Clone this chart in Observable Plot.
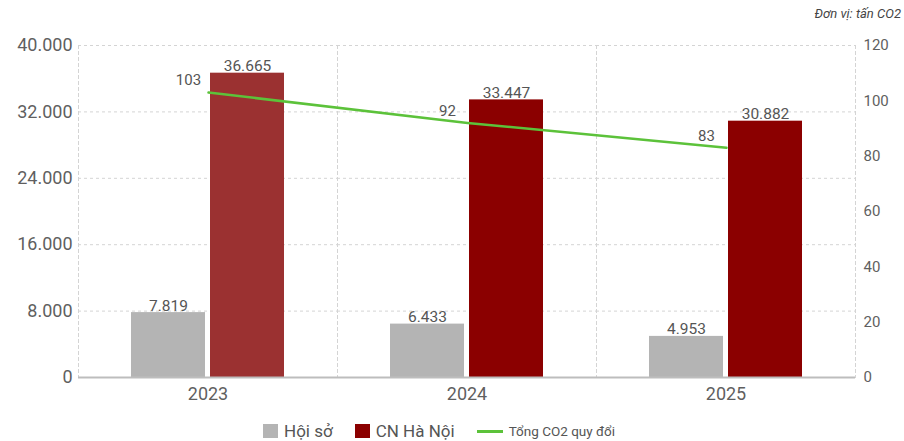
<!DOCTYPE html>
<html>
<head>
<meta charset="utf-8">
<script src="https://cdn.jsdelivr.net/npm/d3@7"></script>
<script src="https://cdn.jsdelivr.net/npm/@observablehq/plot@0.6"></script>
<style>
  html, body { margin: 0; padding: 0; background: #fff; }
  #wrap { position: relative; width: 904px; height: 441px; overflow: hidden; font-family: Roboto, "Noto Sans", sans-serif; }
  .layer { position: absolute; left: 0; top: 0; }
  #unit { position: absolute; right: 3px; top: 6px; font-size: 13px; line-height: 16px; font-style: italic; color: #444; }
  #legend { position: absolute; left: 263px; top: 422px; height: 18px; display: flex; align-items: center; color: #555; }
  .sw { display: inline-block; width: 15px; height: 14px; margin-right: 6px; }
  .item { display: flex; align-items: center; margin-right: 22px; font-size: 17px; line-height: 18px; }
  .ln { display: inline-block; width: 26px; height: 3px; margin-right: 6px; }
</style>
</head>
<body>
<div id="wrap">
  <div id="unit">Đơn vị: tấn CO2</div>
  <div id="bars" class="layer"></div>
  <div id="line" class="layer"></div>
  <div id="legend"></div>
</div>
<script>
const years = ["2023", "2024", "2025"];
const series = ["Hội sở", "CN Hà Nội"];
const hoiSo = [7819, 6433, 4953];
const cnHaNoi = [36665, 33447, 30882];
const lineName = "Tổng CO2 quy đổi";
const tongCO2 = [103, 92, 83];
const leftTicks = [0, 8000, 16000, 24000, 32000, 40000];
const rightTicks = [0, 20, 40, 60, 80, 100, 120];
const grayColor = "#b4b4b4";
const redColor = "#8b0000";
const redHighlight = "#9b3131";
const greenColor = "#5cc23a";

const bars = years.flatMap((y, i) => [
  {year: y, series: series[0], value: hoiSo[i]},
  {year: y, series: series[1], value: cnHaNoi[i]}
]);
const lineData = years.map((y, i) => ({year: y, total: tongCO2[i]}));
const fmt = d => d3.format(",")(d).replace(/,/g, ".");

const W = 904, H = 415;
const margins = {marginLeft: 78, marginRight: 49, marginTop: 45, marginBottom: 38};

const fillOf = d => d.series === series[0] ? grayColor : (d.year === years[0] ? redHighlight : redColor);

const p1 = Plot.plot({
  width: W, height: H, ...margins,
  style: {fontFamily: "Roboto, sans-serif", fontSize: "18px", color: "#5f5f5f", background: "transparent"},
  facet: {data: bars, x: "year"},
  fx: {domain: years, padding: 0, label: null, tickSize: 0, tickPadding: 10, axis: "bottom"},
  x: {domain: series, paddingInner: 0.063, paddingOuter: 0.667, axis: null},
  y: {domain: [0, 40000], ticks: leftTicks, tickFormat: fmt, tickSize: 0, tickPadding: 6, label: null},
  marks: [
    Plot.frame({anchor: "left", stroke: "#d4d4d4", strokeDasharray: "3,3"}),
    Plot.ruleY(leftTicks, {stroke: "#d4d4d4", strokeDasharray: "3,3", facet: false}),
    Plot.barY(bars, {x: "series", y: "value", fill: fillOf}),
    Plot.text(bars, {x: "series", y: "value", text: d => fmt(d.value), dy: -7, fill: "#555", fontSize: 15.5}),
    Plot.ruleY([0], {stroke: "#bdbdbd", strokeWidth: 2})
  ]
});
document.getElementById("bars").appendChild(p1);

const p2 = Plot.plot({
  width: W, height: H, ...margins,
  style: {fontFamily: "Roboto, sans-serif", fontSize: "15px", color: "#5f5f5f", background: "transparent"},
  x: {type: "point", domain: years, padding: 0.5, axis: null},
  y: {domain: [0, 120], ticks: rightTicks, axis: "right", tickSize: 0, tickPadding: 8, label: null},
  marks: [
    Plot.frame({anchor: "right", stroke: "#d4d4d4", strokeDasharray: "3,3"}),
    Plot.line(lineData, {x: "year", y: "total", stroke: greenColor, strokeWidth: 2.5}),
    Plot.text(lineData, {x: "year", y: "total", text: d => String(d.total), dx: -20, dy: -12, fill: "#555", fontSize: 15})
  ]
});
document.getElementById("line").appendChild(p2);

const legend = document.getElementById("legend");
legend.innerHTML =
  `<span class="item"><span class="sw" style="background:${grayColor}"></span>${series[0]}</span>` +
  `<span class="item"><span class="sw" style="background:${redColor}"></span>${series[1]}</span>` +
  `<span class="item" style="font-size:13.5px"><span class="ln" style="background:${greenColor}"></span>${lineName}</span>`;
</script>
</body>
</html>
